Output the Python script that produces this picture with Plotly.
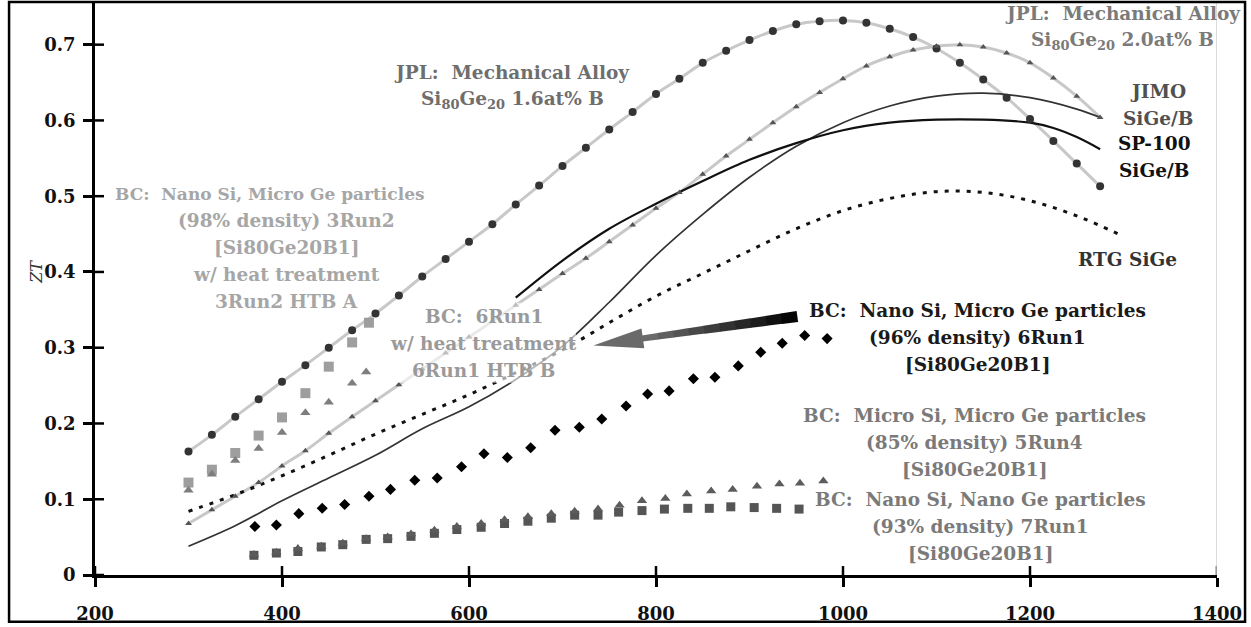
import math
import plotly.graph_objects as go

# ---------------- data ----------------
# JPL mechanical alloy Si80Ge20, 1.6 at% B
T_JPL16 = [300, 325, 350, 375, 400, 425, 450, 475, 500, 525, 550, 575, 600, 625, 650,
           675, 700, 725, 750, 775, 800, 825, 850, 875, 900, 925, 950, 975, 1000, 1025,
           1050, 1075, 1100, 1125, 1150, 1175, 1200, 1225, 1250, 1275]
ZT_JPL16 = [0.163, 0.185, 0.209, 0.232, 0.255, 0.277, 0.300, 0.323, 0.345, 0.369,
            0.394, 0.417, 0.440, 0.463, 0.489, 0.514, 0.540, 0.564, 0.588, 0.611,
            0.635, 0.655, 0.676, 0.692, 0.706, 0.718, 0.727, 0.731, 0.732, 0.729,
            0.721, 0.710, 0.695, 0.676, 0.654, 0.630, 0.602, 0.573, 0.543, 0.513]

# JPL mechanical alloy Si80Ge20, 2.0 at% B
T_JPL20 = [300, 325, 350, 375, 400, 425, 450, 475, 500, 525, 550, 575, 600, 625, 650,
           675, 700, 725, 750, 775, 800, 825, 850, 875, 900, 925, 950, 975, 1000, 1025,
           1050, 1075, 1100, 1125, 1150, 1175, 1200, 1225, 1250, 1275]
ZT_JPL20 = [0.068, 0.086, 0.104, 0.122, 0.144, 0.164, 0.187, 0.209, 0.230, 0.251,
            0.272, 0.293, 0.314, 0.335, 0.356, 0.377, 0.398, 0.418, 0.440, 0.462,
            0.484, 0.505, 0.529, 0.553, 0.575, 0.597, 0.618, 0.637, 0.655, 0.672,
            0.684, 0.693, 0.698, 0.700, 0.697, 0.689, 0.676, 0.656, 0.632, 0.604]

# JIMO SiGe/B
T_JIMO = [300, 350, 400, 450, 500, 550, 600, 650, 700, 750, 800, 850, 900, 950, 1000,
          1050, 1100, 1150, 1200, 1250, 1275]
ZT_JIMO = [0.038, 0.065, 0.098, 0.128, 0.158, 0.193, 0.222, 0.258, 0.302, 0.360, 0.422,
           0.476, 0.525, 0.566, 0.597, 0.619, 0.632, 0.636, 0.630, 0.615, 0.604]

# SP-100 SiGe/B
T_SP100 = [650, 700, 750, 800, 850, 900, 950, 1000, 1050, 1100, 1150, 1200, 1225, 1250, 1275]
ZT_SP100 = [0.366, 0.415, 0.457, 0.490, 0.520, 0.548, 0.570, 0.587, 0.597, 0.601, 0.601,
            0.597, 0.590, 0.578, 0.562]

# RTG SiGe
T_RTG = [300, 350, 400, 450, 500, 550, 600, 650, 700, 750, 800, 850, 900, 950, 1000,
         1050, 1100, 1150, 1200, 1250, 1300]
ZT_RTG = [0.084, 0.106, 0.131, 0.158, 0.186, 0.212, 0.238, 0.267, 0.297, 0.333, 0.368,
          0.398, 0.428, 0.457, 0.481, 0.497, 0.506, 0.505, 0.494, 0.474, 0.447]

# BC nano Si / micro Ge, 98% density, 3Run2 and its heat-treated version
T_3RUN2 = [300, 325, 350, 375, 400, 425, 450, 475, 493]
ZT_3RUN2 = [0.122, 0.139, 0.161, 0.184, 0.208, 0.240, 0.275, 0.307, 0.333]
T_3RUN2_HTB = [300, 325, 350, 375, 400, 425, 450, 475, 490]
ZT_3RUN2_HTB = [0.112, 0.133, 0.151, 0.167, 0.188, 0.214, 0.228, 0.253, 0.268]

# BC nano Si / micro Ge, 96% density, 6Run1
T_6RUN1 = [371, 394, 418, 443, 467, 493, 516, 542, 566, 592, 616, 641, 666, 692, 718,
           742, 768, 791, 814, 840, 863, 888, 912, 935, 959, 983]
ZT_6RUN1 = [0.064, 0.066, 0.081, 0.088, 0.093, 0.104, 0.113, 0.125, 0.128, 0.143, 0.160,
            0.155, 0.168, 0.191, 0.195, 0.206, 0.223, 0.239, 0.243, 0.259, 0.261, 0.276,
            0.294, 0.306, 0.316, 0.312]

# BC micro Si / micro Ge, 85% density, 5Run4
T_5RUN4 = [370, 394, 417, 442, 465, 490, 513, 538, 563, 587, 613, 638, 663, 688, 713,
           738, 761, 785, 810, 833, 859, 882, 908, 932, 954, 979]
ZT_5RUN4 = [0.027, 0.030, 0.035, 0.038, 0.042, 0.048, 0.050, 0.054, 0.059, 0.064, 0.068,
            0.073, 0.077, 0.081, 0.084, 0.087, 0.092, 0.098, 0.101, 0.107, 0.111, 0.113,
            0.117, 0.120, 0.121, 0.124]

# BC nano Si / nano Ge, 93% density, 7Run1
T_7RUN1 = [370, 394, 417, 442, 465, 490, 513, 538, 563, 587, 613, 638, 663, 688, 713,
           738, 760, 785, 809, 834, 857, 880, 905, 929, 953]
ZT_7RUN1 = [0.026, 0.029, 0.031, 0.037, 0.040, 0.047, 0.048, 0.051, 0.055, 0.060, 0.063,
            0.068, 0.071, 0.075, 0.079, 0.079, 0.083, 0.085, 0.087, 0.088, 0.088, 0.090,
            0.089, 0.088, 0.087]

X_TICKS = [200, 400, 600, 800, 1000, 1200, 1400]
Y_TICKS = [0, 0.1, 0.2, 0.3, 0.4, 0.5, 0.6, 0.7]
Y_TICK_TEXT = ["0", "0.1", "0.2", "0.3", "0.4", "0.5", "0.6", "0.7"]

# ---------------- layout geometry ----------------
WIDTH, HEIGHT = 1251, 627
MARGIN = dict(l=95, r=34, t=3, b=49)
X_RANGE = [200, 1400]
Y_RANGE = [0, 0.755]
X_PX_PER_UNIT = (WIDTH - MARGIN["l"] - MARGIN["r"]) / (X_RANGE[1] - X_RANGE[0])
Y_PX_PER_UNIT = (HEIGHT - MARGIN["t"] - MARGIN["b"]) / (Y_RANGE[1] - Y_RANGE[0])

# ---------------- styling ----------------
SERIF = "DejaVu Serif"
LABEL_SIZE = 18.5
LINE_GAP = 27          # pixel spacing between label lines
JPL_LINE = "#c8c8c8"
TICK_HALF = 9          # crossing tick marks extend this far on each side of the axis

fig = go.Figure()


def line_trace(x, y, color, width, dash=None, shape="spline"):
    fig.add_trace(go.Scatter(
        x=x, y=y, mode="lines", hoverinfo="skip",
        line=dict(color=color, width=width, dash=dash, shape=shape, smoothing=1.0)))


def marker_trace(x, y, symbol, color, size):
    fig.add_trace(go.Scatter(
        x=x, y=y, mode="markers", hoverinfo="skip",
        marker=dict(symbol=symbol, color=color, size=size, line=dict(width=0))))


# grey connecting lines of the JPL data
line_trace(T_JPL16, ZT_JPL16, JPL_LINE, 3)
line_trace(T_JPL20, ZT_JPL20, JPL_LINE, 3)

# reference generator curves
line_trace(T_JIMO, ZT_JIMO, "#333333", 1.7)
line_trace(T_SP100, ZT_SP100, "#111111", 2.2)
line_trace(T_RTG, ZT_RTG, "#111111", 3, dash="4px,7px")

# measured points
marker_trace(T_JPL16, ZT_JPL16, "circle", "#333333", 8)
marker_trace(T_JPL20, ZT_JPL20, "triangle-up", "#555555", 6)
marker_trace(T_3RUN2, ZT_3RUN2, "square", "#9e9e9e", 10)
marker_trace(T_3RUN2_HTB, ZT_3RUN2_HTB, "triangle-up", "#7e7e7e", 9)
marker_trace(T_7RUN1, ZT_7RUN1, "square", "#555555", 9)
marker_trace(T_5RUN4, ZT_5RUN4, "triangle-up", "#5c5c5c", 9)
marker_trace(T_6RUN1, ZT_6RUN1, "diamond", "#000000", 8.5)


def label_block(lines, x, y, color, shifts=None, sizes=None):
    for i, text in enumerate(lines):
        fig.add_annotation(
            x=x, y=y, xref="x", yref="y", text=text, showarrow=False,
            xanchor="center", yanchor="middle",
            xshift=(shifts[i] if shifts else 0), yshift=-i * LINE_GAP,
            font=dict(family=SERIF, size=(sizes[i] if sizes else LABEL_SIZE),
                      color=color, weight="bold"))


label_block(["JPL:  Mechanical Alloy", "Si<sub>80</sub>Ge<sub>20</sub> 1.6at% B"],
            646, 0.663, "#6e6e6e")
label_block(["JPL:  Mechanical Alloy", "Si<sub>80</sub>Ge<sub>20</sub> 2.0at% B"],
            1299, 0.741, "#7a7a7a")
label_block(["JIMO", "SiGe/B"], 1337, 0.638, "#505050")
label_block(["SP-100", "SiGe/B"], 1333, 0.570, "#111111")
label_block(["RTG SiGe"], 1304, 0.417, "#333333")
label_block(["BC:  Nano Si, Micro Ge particles", "(98% density) 3Run2", "[Si80Ge20B1]",
             "w/ heat treatment", "3Run2 HTB A"], 405, 0.503, "#a6a6a6",
            shifts=[-17, 0, 0, 0, 0], sizes=[17, LABEL_SIZE, LABEL_SIZE, LABEL_SIZE,
                                              LABEL_SIZE])

# translucent backing under the heat-treated 6Run1 label softens the curves behind it
HTB_LABEL = (616, 0.341)
fig.add_shape(type="rect", xref="x", yref="y", xsizemode="pixel", ysizemode="pixel",
              xanchor=HTB_LABEL[0], yanchor=HTB_LABEL[1], x0=-92, x1=92, y0=-66, y1=14,
              fillcolor="rgba(255,255,255,0.62)", line=dict(width=0), layer="above")
label_block(["BC:  6Run1", "w/ heat treatment", "6Run1 HTB B"], HTB_LABEL[0],
            HTB_LABEL[1], "#9a9a9a")

label_block(["BC:  Nano Si, Micro Ge particles", "(96% density) 6Run1", "[Si80Ge20B1]"],
            1144, 0.349, "#1a1a1a")
label_block(["BC:  Micro Si, Micro Ge particles", "(85% density) 5Run4", "[Si80Ge20B1]"],
            1141, 0.210, "#7a7a7a")
label_block(["BC:  Nano Si, Nano Ge particles", "(93% density) 7Run1", "[Si80Ge20B1]"],
            1147, 0.0997, "#7a7a7a")

# y-axis title
fig.add_annotation(x=-0.062, y=0.53, xref="paper", yref="paper", text="ZT",
                   showarrow=False, textangle=-90,
                   font=dict(family=SERIF, size=16, color="#333333", style="italic"))

# tapered arrow pointing from the 6Run1 label to its heat-treated version
ARROW_TIP = (733, 0.303)      # data position of the tip
ARROW_TAIL = (204, 29)        # tail offset from the tip, pixels (x right, y up)
HEAD_LEN, HEAD_HALF = 50, 10
NECK_HALF, TAIL_HALF = 3.0, 5.5
N_SEG = 10


def px_path(pts):
    return "M " + " L ".join(f"{px:.2f},{py:.2f}" for px, py in pts) + " Z"


length = math.hypot(*ARROW_TAIL)
ux, uy = ARROW_TAIL[0] / length, ARROW_TAIL[1] / length
nx, ny = -uy, ux


def along(d, off):
    return (ux * d + nx * off, uy * d + ny * off)


arrow_shapes = []
for k in range(N_SEG):
    d0 = HEAD_LEN + (length - HEAD_LEN) * k / N_SEG
    d1 = HEAD_LEN + (length - HEAD_LEN) * (k + 1) / N_SEG
    h0 = NECK_HALF + (TAIL_HALF - NECK_HALF) * k / N_SEG
    h1 = NECK_HALF + (TAIL_HALF - NECK_HALF) * (k + 1) / N_SEG
    g = int(0x70 * (1 - (k + 0.5) / N_SEG))
    pts = [along(d0 - 0.6, h0), along(d1, h1), along(d1, -h1), along(d0 - 0.6, -h0)]
    arrow_shapes.append(dict(type="path", path=px_path(pts), fillcolor=f"rgb({g},{g},{g})",
                             line=dict(width=0)))
head = [along(0, 0), along(HEAD_LEN, HEAD_HALF), along(HEAD_LEN, -HEAD_HALF)]
arrow_shapes.append(dict(type="path", path=px_path(head), fillcolor="#6a6a6a",
                         line=dict(width=0)))
for s in arrow_shapes:
    s.update(xref="x", yref="y", xsizemode="pixel", ysizemode="pixel",
             xanchor=ARROW_TIP[0], yanchor=ARROW_TIP[1], layer="above")
    fig.add_shape(**s)

# inner halves of the crossing tick marks (outer halves come from the axes)
x_tick_rise = TICK_HALF / Y_PX_PER_UNIT
y_tick_reach = TICK_HALF / X_PX_PER_UNIT
for v in X_TICKS:
    fig.add_shape(type="line", xref="x", yref="y", x0=v, x1=v,
                  y0=Y_RANGE[0], y1=Y_RANGE[0] + x_tick_rise,
                  line=dict(color="#000000", width=2.5), layer="above")
for v in Y_TICKS:
    fig.add_shape(type="line", xref="x", yref="y", x0=X_RANGE[0],
                  x1=X_RANGE[0] + y_tick_reach, y0=v, y1=v,
                  line=dict(color="#000000", width=2.5), layer="above")

# light rule at the right end of the temperature axis
fig.add_shape(type="line", xref="x", yref="paper", x0=1400, x1=1400, y0=0, y1=1,
              line=dict(color="#cfcfcf", width=1.5))
# outer frame
fig.add_shape(type="rect", xref="paper", yref="paper",
              x0=-0.0766, x1=1.0250, y0=-0.0817, y1=1.0017,
              line=dict(color="#000000", width=2.5))

TICK_FONT = dict(family=SERIF, size=18, color="#111111", weight="bold")
axis_common = dict(showgrid=False, zeroline=False, showline=True, linecolor="#000000",
                   linewidth=2.5, ticks="outside", ticklen=TICK_HALF, tickwidth=2.5,
                   tickcolor="#000000")

fig.update_layout(
    width=WIDTH, height=HEIGHT,
    margin=MARGIN,
    paper_bgcolor="white", plot_bgcolor="white",
    showlegend=False,
    xaxis=dict(range=X_RANGE, tickvals=X_TICKS, tickfont=TICK_FONT,
               ticklabelstandoff=12, **axis_common),
    yaxis=dict(range=Y_RANGE, tickvals=Y_TICKS, ticktext=Y_TICK_TEXT,
               tickfont=TICK_FONT, ticklabelstandoff=4, **axis_common),
)

fig.write_html("out.html")
